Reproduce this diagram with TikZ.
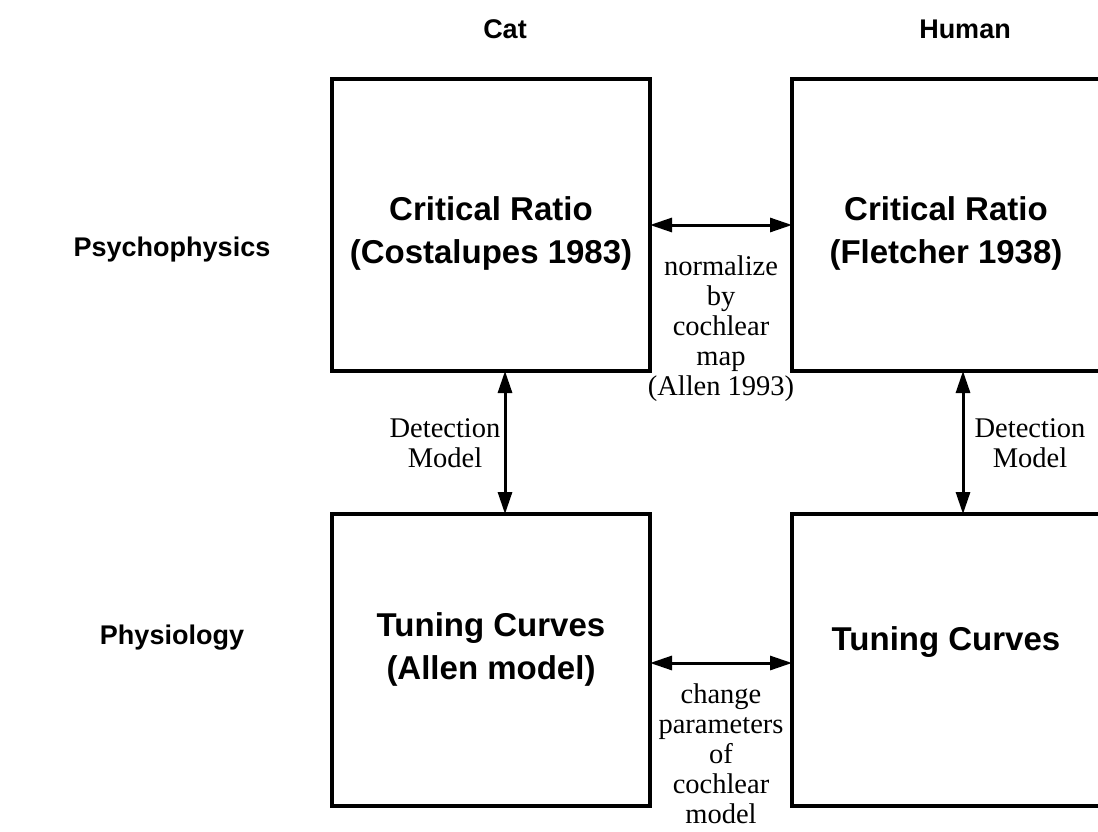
\documentclass[tikz,border=0pt]{standalone}
\usepackage{fontspec}
\setmainfont{Liberation Serif}
\newfontfamily\hv{Liberation Sans}
\usetikzlibrary{arrows.meta}
\tikzset{
  box/.style={draw, line width=3.2pt, minimum width=318pt, minimum height=292pt, inner sep=0pt, outer sep=0pt},
  arr/.style={line width=3pt, {Triangle[length=22pt,width=14pt]}-{Triangle[length=22pt,width=14pt]}},
  big/.style={font=\hv\bfseries\fontsize{33}{43}\selectfont, align=center, inner sep=0pt},
  lab/.style={font=\hv\bfseries\fontsize{27}{30}\selectfont, inner sep=0pt},
  note/.style={font=\fontsize{28.5}{30}\selectfont, align=center, inner sep=0pt}
}
\begin{document}
\begin{tikzpicture}[x=1pt,y=-1pt]
\useasboundingbox (0,0) rectangle (1098,832);
\clip (0,0) rectangle (1098,832);
% column / row labels
\node[lab] (cat) at (505,29) {Cat};
\node[lab] (human) at (965,29) {Human};
\node[lab] (psy) at (172,250) {Psychophysics};
\node[lab] (phy) at (172,638) {Physiology};
% boxes
\node[box] (tl) at (491,225) {};
\node[box] (tr) at (951,225) {};
\node[box] (bl) at (491,660) {};
\node[box] (br) at (951,660) {};
% box texts
\node[big] (tlt) at (491,233) {Critical Ratio\\(Costalupes 1983)};
\node[big] (trt) at (946,233) {Critical Ratio\\(Fletcher 1938)};
\node[big] (blt) at (491,649) {Tuning Curves\\(Allen model)};
\node[big] (brt) at (946,642) {Tuning Curves};
% connectors
\coordinate (vl) at (505,0);
\coordinate (vr) at (963,0);
\coordinate (hb) at (0,663);
\draw[arr] (tl.east) -- (tr.west);
\draw[arr] (bl.east |- hb) -- (br.west |- hb);
\draw[arr] (tl.south -| vl) -- (bl.north -| vl);
\draw[arr] (tr.south -| vr) -- (br.north -| vr);
% connector labels
\node[note] (n1) at (721,329) {normalize\\by\\cochlear\\map\\(Allen 1993)};
\node[note] (n2) at (721,754) {change\\parameters\\of\\cochlear\\model};
\node[note] (d1) at (445,443) {Detection\\Model};
\node[note] (d2) at (1030,443) {Detection\\Model};
\end{tikzpicture}
\end{document}
